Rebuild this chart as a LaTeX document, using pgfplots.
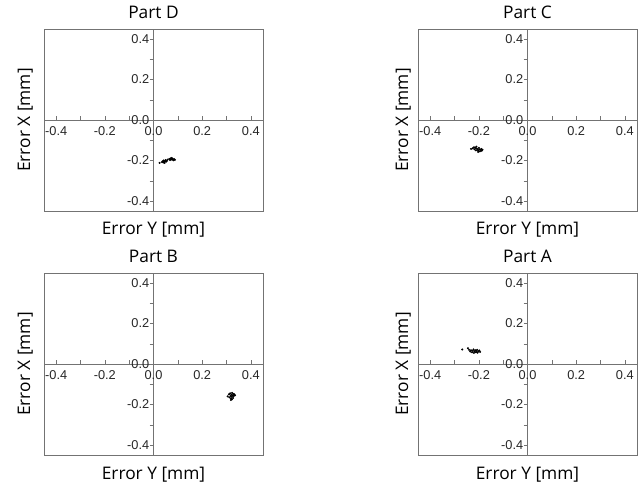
\documentclass[border=0pt]{standalone}
\usepackage{pgfplots}
\pgfplotsset{compat=1.18}
\usepackage{fontspec}
\setmainfont{Open Sans}
\newfontfamily\tickfont{Liberation Sans}
\pgfplotsset{
  errplot/.style={
    width=164.25pt, height=136.5pt, scale only axis, clip=false,
    xmin=-0.45, xmax=0.45, ymin=-0.45, ymax=0.45,
    axis lines=middle,
    axis line style={-, draw=black!55, line width=0.6pt},
    xtick={-0.4,-0.2,0,0.2,0.4}, ytick={-0.4,-0.2,0,0.2,0.4},
    minor tick num=1,
    hide obscured x ticks=false, hide obscured y ticks=false,
    tick align=center, major tick length=3pt, minor tick length=3pt,
    xtick style={yshift=1.5pt, draw=black!55},
    ytick style={xshift=-1.5pt, draw=black!55},
    /pgf/number format/.cd, fixed, fixed zerofill, precision=1, assume math mode=true,
    /pgfplots/.cd,
    tick label style={font=\tickfont\fontsize{9.6}{11}\selectfont, text=black!85},
    yticklabel style={inner sep=1.5pt},
    title style={at={(rel axis cs:0.5,1)}, anchor=base, yshift=1.9pt, font=\fontsize{13}{15}\selectfont},
    xlabel style={at={(rel axis cs:0.5,0)}, anchor=base, yshift=-18pt, font=\fontsize{13}{15}\selectfont},
    ylabel style={rotate=90, anchor=base, font=\fontsize{13}{15}\selectfont},
    xlabel={Error Y [mm]}, ylabel={Error X [mm]},
  },
  pts/.style={only marks, mark=*, mark size=0.55pt, draw=black, fill=black, mark options={draw=black, fill=black}},
}
\begin{document}
\begin{tikzpicture}
\useasboundingbox (0,0) rectangle (480.75pt,-363pt);
% Part D
\begin{axis}[errplot, at={(33pt,-158.25pt)}, anchor=south west, title={Part D},
  ylabel style={at={([xshift=-10.5pt]rel axis cs:0,0.5)}}]
\draw[black!55, line width=0.6pt] (rel axis cs:0,0) rectangle (rel axis cs:1,1);
\addplot[pts] coordinates {
(0.025,-0.212) (0.035,-0.208) (0.038,-0.204) (0.040,-0.210) (0.042,-0.200)
(0.044,-0.206) (0.046,-0.212) (0.048,-0.203) (0.050,-0.198) (0.052,-0.206)
(0.055,-0.202) (0.058,-0.196) (0.065,-0.193) (0.068,-0.198) (0.070,-0.190)
(0.072,-0.195) (0.075,-0.188) (0.077,-0.196) (0.079,-0.192) (0.082,-0.199)
(0.085,-0.194) (0.088,-0.197)
};
\end{axis}
% Part C
\begin{axis}[errplot, at={(313.5pt,-158.25pt)}, anchor=south west, title={Part C},
  ylabel style={at={([xshift=-7.5pt]rel axis cs:0,0.5)}}]
\draw[black!55, line width=0.6pt] (rel axis cs:0,0) rectangle (rel axis cs:1,1);
\addplot[pts] coordinates {
(-0.232,-0.143) (-0.225,-0.140) (-0.220,-0.135) (-0.218,-0.145) (-0.214,-0.138)
(-0.212,-0.150) (-0.208,-0.142) (-0.205,-0.147) (-0.202,-0.152) (-0.200,-0.138)
(-0.198,-0.145) (-0.196,-0.155) (-0.193,-0.148) (-0.190,-0.143) (-0.188,-0.152)
(-0.185,-0.147) (-0.210,-0.132) (-0.203,-0.158)
};
\end{axis}
% Part B
\begin{axis}[errplot, at={(33pt,-341.25pt)}, anchor=south west, title={Part B},
  ylabel style={at={([xshift=-10.5pt]rel axis cs:0,0.5)}}]
\draw[black!55, line width=0.6pt] (rel axis cs:0,0) rectangle (rel axis cs:1,1);
\addplot[pts] coordinates {
(0.305,-0.160) (0.310,-0.150) (0.312,-0.165) (0.315,-0.145) (0.317,-0.158)
(0.318,-0.170) (0.320,-0.152) (0.322,-0.162) (0.323,-0.143) (0.325,-0.155)
(0.327,-0.168) (0.328,-0.148) (0.330,-0.158) (0.332,-0.150) (0.335,-0.155)
(0.318,-0.178) (0.322,-0.175)
};
\end{axis}
% Part A
\begin{axis}[errplot, at={(313.5pt,-341.25pt)}, anchor=south west, title={Part A},
  ylabel style={at={([xshift=-7.5pt]rel axis cs:0,0.5)}}]
\draw[black!55, line width=0.6pt] (rel axis cs:0,0) rectangle (rel axis cs:1,1);
\addplot[pts] coordinates {
(-0.268,0.072) (-0.245,0.078) (-0.240,0.070) (-0.235,0.062) (-0.232,0.068)
(-0.228,0.058) (-0.225,0.065) (-0.222,0.072) (-0.220,0.055) (-0.218,0.062)
(-0.215,0.068) (-0.212,0.058) (-0.210,0.064) (-0.207,0.070) (-0.205,0.056)
(-0.202,0.063) (-0.198,0.067) (-0.195,0.060)
};
\end{axis}
\end{tikzpicture}
\end{document}
